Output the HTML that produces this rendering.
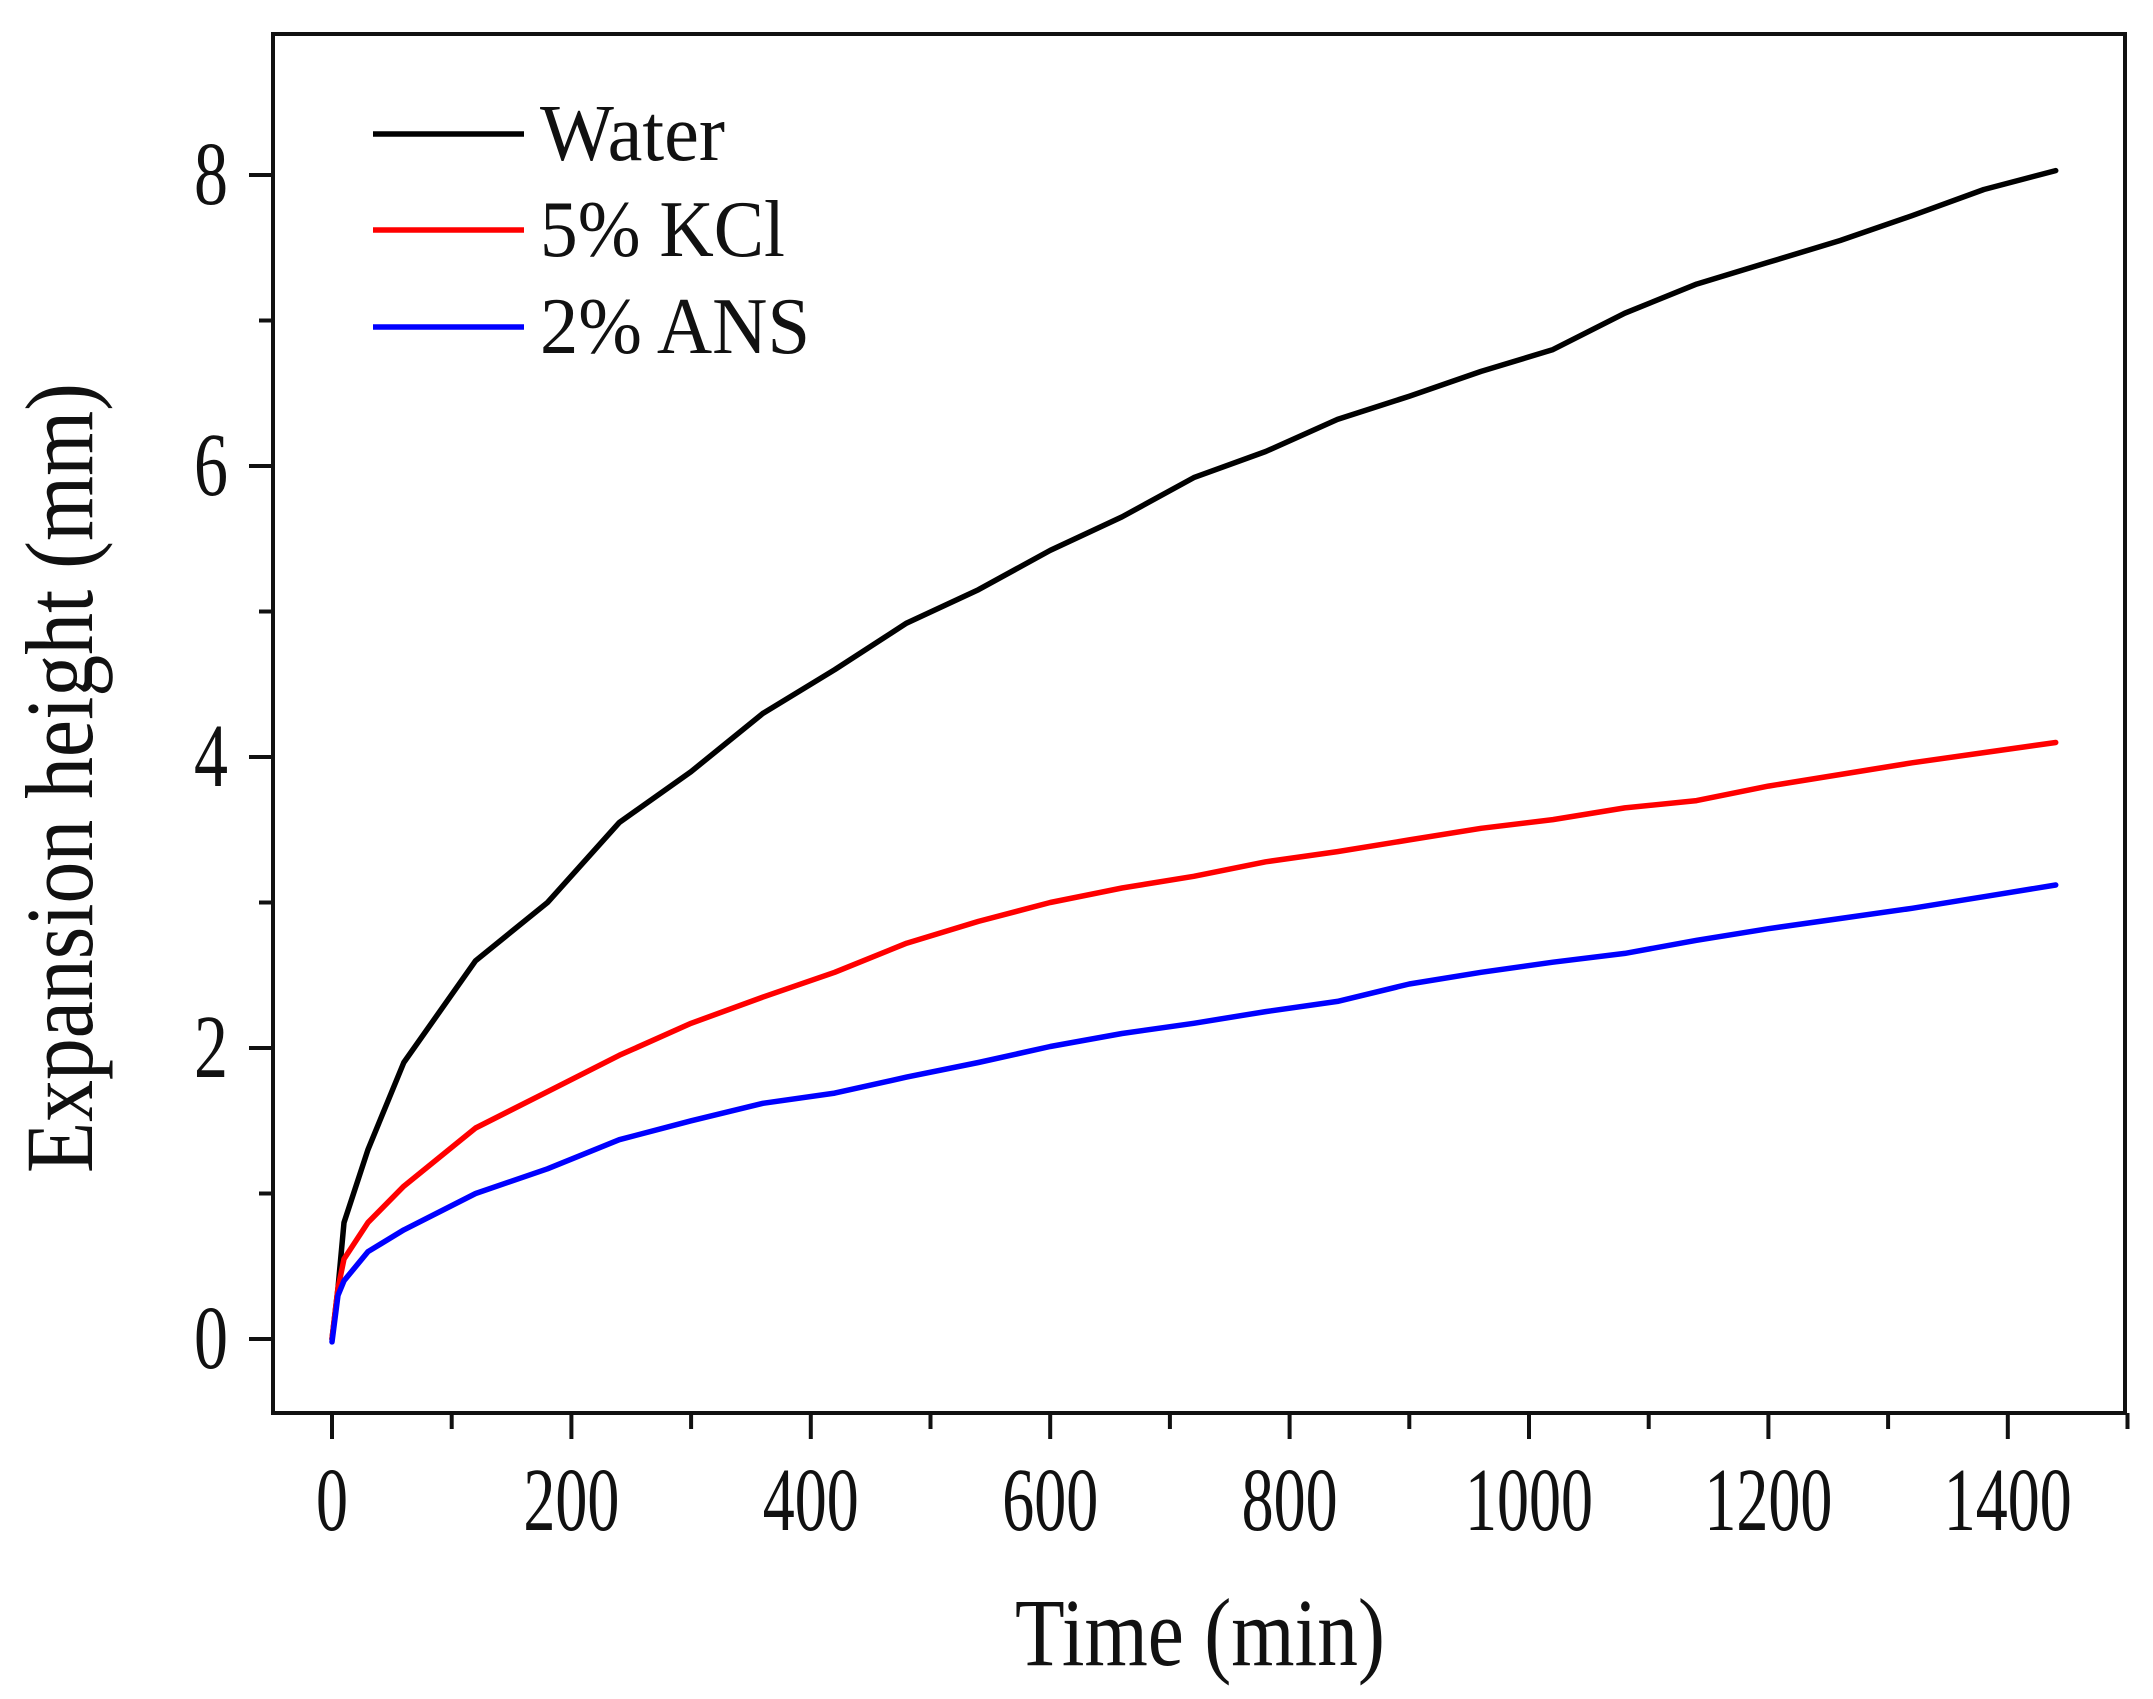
<!DOCTYPE html>
<html><head><meta charset="utf-8"><style>
html,body{margin:0;padding:0;background:#fff;}
svg{display:block;}
text{font-family:"Liberation Serif",serif;fill:#111;}
</style></head><body>
<svg id="chart" width="2153" height="1699" viewBox="0 0 2153 1699" xmlns="http://www.w3.org/2000/svg">
<g id="axes"></g>
<g id="series"></g>
<g id="legend"></g>
</svg>
<script>
const times = [0,5,10,30,60,120,180,240,300,360,420,480,540,600,660,720,780,840,900,960,1020,1080,1140,1200,1260,1320,1380,1440];
const waterValues = [0,0.35,0.8,1.3,1.9,2.6,3.0,3.55,3.9,4.3,4.6,4.92,5.15,5.42,5.65,5.92,6.1,6.32,6.48,6.65,6.8,7.05,7.25,7.4,7.55,7.72,7.9,8.03];
const kclValues = [0,0.35,0.55,0.8,1.05,1.45,1.7,1.95,2.17,2.35,2.52,2.72,2.87,3.0,3.1,3.18,3.28,3.35,3.43,3.51,3.57,3.65,3.7,3.8,3.88,3.96,4.03,4.1];
const ansValues = [-0.02,0.3,0.4,0.6,0.75,1.0,1.17,1.37,1.5,1.62,1.69,1.8,1.9,2.01,2.1,2.17,2.25,2.32,2.44,2.52,2.59,2.65,2.74,2.82,2.89,2.96,3.04,3.12];
const seriesNames = ["Water","5% KCl","2% ANS"];
const seriesColors = ["#000000","#ff0000","#0000ff"];
const xTickLabels = ["0","200","400","600","800","1000","1200","1400"];
const yTickLabels = ["0","2","4","6","8"];

const NS="http://www.w3.org/2000/svg";
const L=273,R=2125,T=34,B=1413;
const X0=332,XS=1.197; // px per min
const Y0=1339,YS=145.5; // px per mm
function xs(v){return X0+v*XS;}
function ys(v){return Y0-v*YS;}
function mk(tag,attrs,parent){const e=document.createElementNS(NS,tag);for(const k in attrs)e.setAttribute(k,attrs[k]);parent.appendChild(e);return e;}
const axes=document.getElementById('axes');
const frame=mk('rect',{x:L,y:T,width:R-L,height:B-T,fill:'none',stroke:'#111','stroke-width':4},axes);


for(let v=0;v<=1500;v+=100){
  const major=v%200===0;
  const t=mk('line',{x1:xs(v),x2:xs(v),y1:B,y2:B+(major?26:16),stroke:'#111','stroke-width':4},axes);
  
  
}
xTickLabels.forEach(s=>{
  const v=parseFloat(s);
  const w=s.length*32;
  const t=mk('text',{x:xs(v),y:1530,'font-size':90,'text-anchor':'middle',textLength:w,lengthAdjust:'spacingAndGlyphs'},axes);
  t.textContent=s;
  
  
});
for(let v=0;v<=9;v+=1){
  const major=v%2===0;
  const y=ys(v); if(y<T)continue;
  const t=mk('line',{x1:L,x2:L-(major?24:14),y1:y,y2:y,stroke:'#111','stroke-width':4},axes);
  
  
}
yTickLabels.forEach(s=>{
  const v=parseFloat(s);
  const t=mk('text',{x:228,y:ys(v)+29,'font-size':90,'text-anchor':'end',textLength:34,lengthAdjust:'spacingAndGlyphs'},axes);
  t.textContent=s;
  
  
});
const xt=mk('text',{x:1200,y:1665,'font-size':96,'text-anchor':'middle',textLength:370,lengthAdjust:'spacingAndGlyphs'},axes);
xt.textContent='Time (min)';


const yt=mk('text',{x:0,y:0,'font-size':96,'text-anchor':'middle',textLength:790,lengthAdjust:'spacingAndGlyphs',transform:'translate(92,778) rotate(-90)'},axes);
yt.textContent='Expansion height (mm)';


const sg=document.getElementById('series');
[waterValues,kclValues,ansValues].forEach((vals,i)=>{
  const d=vals.map((v,j)=>(j?'L':'M')+xs(times[j]).toFixed(1)+','+ys(v).toFixed(1)).join(' ');
  const p=mk('path',{d:d,fill:'none',stroke:seriesColors[i],'stroke-width':5.5,'stroke-linejoin':'round','stroke-linecap':'round'},sg);
  
  
});
const lg=document.getElementById('legend');
const ly=[134,230,327];
seriesNames.forEach((n,i)=>{
  const ln=mk('line',{x1:373,x2:524,y1:ly[i],y2:ly[i],stroke:seriesColors[i],'stroke-width':5.5},lg);
  
  
  const tx=mk('text',{x:540,y:ly[i]+26,'font-size':80,textLength:[185,245,270][i],lengthAdjust:'spacingAndGlyphs'},lg);
  tx.textContent=n;
  
  
});
</script>
</body></html>
